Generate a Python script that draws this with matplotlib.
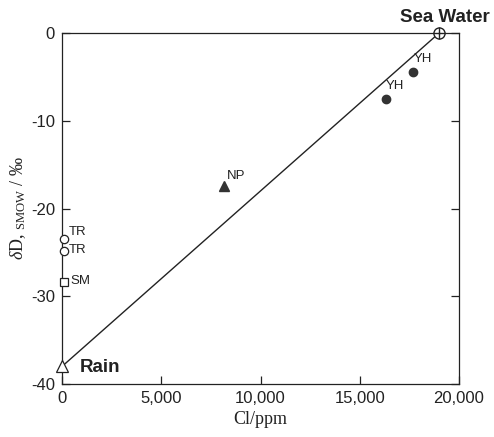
import matplotlib
matplotlib.use("Agg")
import matplotlib.pyplot as plt

plt.rcParams['font.family'] = ['Liberation Sans', 'DejaVu Sans']
plt.rcParams['mathtext.fontset'] = 'custom'
plt.rcParams['mathtext.rm'] = 'Liberation Serif'
plt.rcParams['mathtext.it'] = 'Liberation Serif:italic'
plt.rcParams['axes.unicode_minus'] = False

# данные
sea_cl, sea_d = 19000, 0.0
rain_cl, rain_d = 0, -38.0
yh_cl = [17700, 16300]
yh_d = [-4.4, -7.5]
np_cl, np_d = 8150, -17.4
tr_cl = [120, 120]
tr_d = [-23.5, -24.9]
sm_cl, sm_d = 120, -28.4

xticks = [0, 5000, 10000, 15000, 20000]
xticklabels = ['0', '5,000', '10,000', '15,000', '20,000']
yticks = [0, -10, -20, -30, -40]

ink = '#222222'

fig = plt.figure(figsize=(4.94, 4.37), dpi=100)
ax = fig.add_axes([62 / 494, 53 / 437, 397 / 494, 351 / 437])

# линия смешения дождь - морская вода
ax.plot([rain_cl, sea_cl], [rain_d, sea_d], color=ink, lw=1.0, zorder=2)

ax.plot(sea_cl, sea_d, 'o', ms=8, mfc='white', mec=ink, mew=1.0, clip_on=False, zorder=3)
ax.plot(sea_cl, sea_d, '+', ms=8, mec=ink, mew=1.0, clip_on=False, zorder=4)
ax.plot(rain_cl, rain_d, '^', ms=8, mfc='white', mec=ink, mew=0.9, clip_on=False, zorder=3)
ax.plot(yh_cl, yh_d, 'o', ms=6, color='#333333', clip_on=False, zorder=3)
ax.plot(np_cl, np_d, '^', ms=7, color='#333333', clip_on=False, zorder=3)
ax.plot(tr_cl, tr_d, 'o', ms=6, mfc='white', mec=ink, mew=0.9, clip_on=False, zorder=3)
ax.plot(sm_cl, sm_d, 's', ms=5.5, mfc='white', mec=ink, mew=0.9, clip_on=False, zorder=3)

ax.annotate('Sea Water', (sea_cl, sea_d), xytext=(4, 5), textcoords='offset points',
            ha='center', va='bottom', fontsize=13.5, fontweight='bold', color=ink)
ax.annotate('Rain', (rain_cl, rain_d), xytext=(13, -1), textcoords='offset points',
            ha='left', va='center', fontsize=13.5, fontweight='bold', color=ink)
for x, y in zip(yh_cl, yh_d):
    ax.annotate('YH', (x, y), xytext=(0, 5), textcoords='offset points',
                ha='left', va='bottom', fontsize=9.5, color=ink)
ax.annotate('NP', (np_cl, np_d), xytext=(2, 3), textcoords='offset points',
            ha='left', va='bottom', fontsize=9.5, color=ink)
ax.annotate('TR', (tr_cl[0], tr_d[0]), xytext=(3, 5), textcoords='offset points',
            ha='left', va='center', fontsize=9.5, color=ink)
ax.annotate('TR', (tr_cl[1], tr_d[1]), xytext=(3, 1), textcoords='offset points',
            ha='left', va='center', fontsize=9.5, color=ink)
ax.annotate('SM', (sm_cl, sm_d), xytext=(4, 1), textcoords='offset points',
            ha='left', va='center', fontsize=9.5, color=ink)

ax.set_xlim(0, 20000)
ax.set_ylim(-40, 0)
ax.set_xticks(xticks)
ax.set_xticklabels(xticklabels)
ax.set_yticks(yticks)
ax.tick_params(direction='in', length=6, width=0.9, labelsize=12, colors=ink,
               right=True, top=False, pad=5)
for s in ax.spines.values():
    s.set_linewidth(0.9)
    s.set_color(ink)

ax.set_xlabel('Cl/ppm', fontsize=13, family='Liberation Serif', color=ink, labelpad=4)
ax.set_ylabel(r'$\delta$D, $_{\mathrm{SMOW}}$ / ‰', fontsize=13, family='Liberation Serif',
              color=ink, labelpad=2)

fig.savefig('out.png', dpi=100)
